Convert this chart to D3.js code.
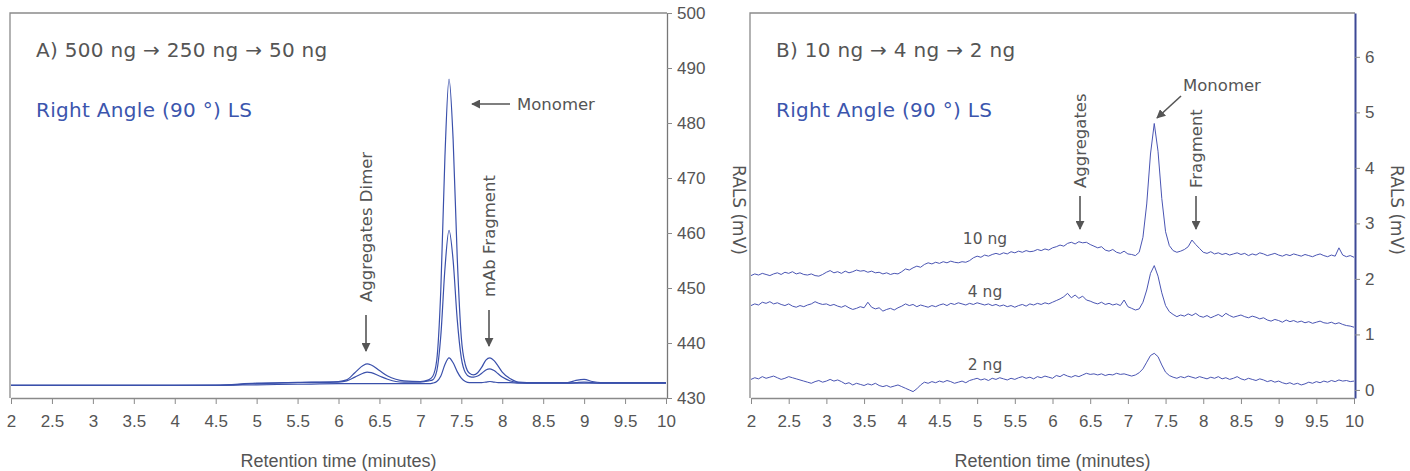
<!DOCTYPE html>
<html>
<head>
<meta charset="utf-8">
<script src="https://cdn.jsdelivr.net/npm/d3@7"></script>
<style>
  body { margin: 0; background: #fff; }
  svg { display: block; }
</style>
</head>
<body>
<div id="chart"></div>
<script>
// Panneau A : trois injections, 500 ng, 250 ng, 50 ng (RALS en mV)
var timesA = [2, 3, 4, 4.5, 5, 5.5, 6, 6.1, 6.2, 6.3, 6.35, 6.4, 6.5, 6.6, 6.7, 6.8, 7.0, 7.1, 7.15, 7.2, 7.25,
  7.3, 7.35, 7.4, 7.45, 7.5, 7.55, 7.6, 7.65, 7.7, 7.75, 7.8, 7.85, 7.9, 7.95, 8.0, 8.1, 8.2, 8.4, 8.8, 8.9, 9.0,
  9.1, 9.2, 9.5, 10];
var ng500 = [432.3, 432.3, 432.3, 432.35, 432.7, 432.85, 433.0, 433.3, 434.6, 435.9, 436.2, 436.0, 435.0, 434.0,
  433.4, 433.1, 433.0, 433.3, 433.9, 436.9, 449.8, 473.9, 488.0, 477.0, 455.6, 441.0, 436.0, 434.5, 434.2, 434.6,
  435.6, 436.9, 437.3, 436.8, 435.8, 434.7, 433.5, 432.9, 432.8, 432.8, 433.2, 433.4, 433.0, 432.8, 432.8, 432.8];
var ng250 = [432.3, 432.3, 432.3, 432.3, 432.6, 432.8, 432.9, 433.1, 433.8, 434.5, 434.7, 434.6, 434.0, 433.4,
  433.0, 432.9, 432.9, 433.1, 433.3, 434.9, 441.4, 453.5, 460.5, 455.0, 444.3, 437.3, 434.6, 433.9, 433.8, 434.0,
  434.5, 435.1, 435.3, 435.0, 434.4, 433.8, 433.1, 432.8, 432.7, 432.7, 432.8, 432.9, 432.8, 432.7, 432.7, 432.7];
var ng50 = [432.3, 432.3, 432.3, 432.3, 432.4, 432.5, 432.6, 432.6, 432.6, 432.6, 432.6, 432.6, 432.6, 432.6,
  432.6, 432.6, 432.6, 432.6, 432.7, 433.0, 434.0, 436.1, 437.3, 436.4, 434.8, 433.6, 433.0, 432.8, 432.8, 432.8,
  432.8, 432.9, 433.0, 432.9, 432.8, 432.8, 432.8, 432.7, 432.7, 432.7, 432.7, 432.7, 432.7, 432.7, 432.7, 432.7];

// Panneau B : 10 ng, 4 ng, 2 ng, un point toutes les 0.05 min de 2 à 10
var ng10 = [2.06, 2.09, 2.07, 2.10, 2.08, 2.06, 2.09, 2.11, 2.08, 2.12, 2.10,
  2.13, 2.09, 2.11, 2.08, 2.07, 2.09, 2.06, 2.05, 2.08, 2.12,
  2.15, 2.11, 2.13, 2.10, 2.14, 2.11, 2.13, 2.16, 2.14, 2.15,
  2.12, 2.14, 2.11, 2.12, 2.09, 2.11, 2.08, 2.10, 2.09, 2.13,
  2.18, 2.16, 2.20, 2.23, 2.21, 2.26, 2.29, 2.27, 2.30, 2.28,
  2.31, 2.29, 2.32, 2.30, 2.29, 2.31, 2.30, 2.33, 2.38, 2.41,
  2.39, 2.43, 2.41, 2.44, 2.46, 2.44, 2.47, 2.45, 2.49, 2.47,
  2.50, 2.48, 2.51, 2.49, 2.50, 2.53, 2.51, 2.54, 2.52, 2.56,
  2.58, 2.61, 2.59, 2.64, 2.66, 2.63, 2.67, 2.65, 2.66, 2.62,
  2.59, 2.56, 2.58, 2.52, 2.50, 2.53, 2.48, 2.46, 2.50, 2.45,
  2.44, 2.42, 2.48, 2.75, 3.35, 4.25, 4.80, 4.30, 3.45, 2.85,
  2.60, 2.51, 2.48, 2.50, 2.53, 2.58, 2.70, 2.62, 2.55, 2.48,
  2.46, 2.49, 2.45, 2.47, 2.44, 2.46, 2.43, 2.45, 2.47, 2.44,
  2.46, 2.42, 2.45, 2.43, 2.47, 2.45, 2.42, 2.44, 2.46, 2.43,
  2.41, 2.44, 2.42, 2.45, 2.43, 2.41, 2.44, 2.42, 2.40, 2.43,
  2.45, 2.42, 2.40, 2.43, 2.41, 2.56, 2.43, 2.40, 2.42, 2.39];
var ng4 = [1.52, 1.55, 1.53, 1.58, 1.56, 1.59, 1.55, 1.57, 1.54, 1.52, 1.55,
  1.51, 1.49, 1.52, 1.50, 1.53, 1.55, 1.59, 1.56, 1.54, 1.55,
  1.52, 1.54, 1.51, 1.49, 1.52, 1.48, 1.45, 1.47, 1.50, 1.48,
  1.58, 1.49, 1.46, 1.48, 1.42, 1.45, 1.47, 1.44, 1.48, 1.51,
  1.55, 1.52, 1.54, 1.50, 1.53, 1.51, 1.49, 1.52, 1.50, 1.53,
  1.55, 1.52, 1.56, 1.54, 1.57, 1.55, 1.53, 1.56, 1.54, 1.57,
  1.55, 1.53, 1.55, 1.52, 1.54, 1.51, 1.53, 1.50, 1.52, 1.49,
  1.52, 1.54, 1.51, 1.55, 1.53, 1.56, 1.54, 1.57, 1.55, 1.58,
  1.61, 1.64, 1.68, 1.74, 1.66, 1.71, 1.65, 1.69, 1.62, 1.60,
  1.57, 1.55, 1.58, 1.54, 1.56, 1.53, 1.55, 1.52, 1.62, 1.50,
  1.47, 1.44, 1.46, 1.58, 1.80, 2.10, 2.24, 2.05, 1.75, 1.52,
  1.41, 1.36, 1.32, 1.35, 1.33, 1.37, 1.34, 1.38, 1.33, 1.31,
  1.34, 1.30, 1.33, 1.36, 1.32, 1.38, 1.34, 1.31, 1.33, 1.35,
  1.32, 1.30, 1.33, 1.31, 1.28, 1.30, 1.26, 1.24, 1.27, 1.25,
  1.22, 1.26, 1.23, 1.25, 1.22, 1.24, 1.21, 1.23, 1.20, 1.22,
  1.24, 1.21, 1.20, 1.22, 1.19, 1.21, 1.18, 1.16, 1.15, 1.13];
var ng2 = [0.19, 0.22, 0.20, 0.24, 0.21, 0.23, 0.25, 0.22, 0.19, 0.21, 0.24,
  0.22, 0.20, 0.18, 0.16, 0.14, 0.12, 0.15, 0.17, 0.14, 0.16,
  0.19, 0.16, 0.18, 0.15, 0.11, 0.13, 0.09, 0.12, 0.10, 0.08,
  0.11, 0.09, 0.12, 0.08, 0.06, 0.08, 0.05, 0.07, 0.09, 0.06,
  0.03, 0.00, -0.03, 0.02, 0.09, 0.14, 0.12, 0.15, 0.13, 0.16,
  0.14, 0.17, 0.15, 0.12, 0.14, 0.16, 0.13, 0.17, 0.19, 0.21,
  0.18, 0.20, 0.17, 0.21, 0.19, 0.22, 0.20, 0.18, 0.21, 0.19,
  0.22, 0.24, 0.21, 0.23, 0.20, 0.24, 0.22, 0.25, 0.23, 0.21,
  0.26, 0.24, 0.28, 0.25, 0.23, 0.26, 0.24, 0.27, 0.30, 0.28,
  0.29, 0.27, 0.29, 0.26, 0.28, 0.27, 0.30, 0.28, 0.29, 0.27,
  0.25, 0.27, 0.31, 0.38, 0.50, 0.62, 0.66, 0.60, 0.45, 0.32,
  0.26, 0.23, 0.21, 0.24, 0.22, 0.25, 0.23, 0.21, 0.24, 0.22,
  0.20, 0.23, 0.21, 0.24, 0.20, 0.22, 0.19, 0.21, 0.24, 0.20,
  0.18, 0.21, 0.19, 0.17, 0.20, 0.18, 0.15, 0.17, 0.14, 0.16,
  0.13, 0.11, 0.13, 0.10, 0.12, 0.09, 0.11, 0.14, 0.12, 0.15,
  0.13, 0.16, 0.14, 0.17, 0.15, 0.18, 0.16, 0.17, 0.15, 0.16];

var xTicks = [2, 2.5, 3, 3.5, 4, 4.5, 5, 5.5, 6, 6.5, 7, 7.5, 8, 8.5, 9, 9.5, 10];
var yTicksA = [430, 440, 450, 460, 470, 480, 490, 500];
var yTicksB = [0, 1, 2, 3, 4, 5, 6];

var width = 1410, height = 471;
var grey = "#555", frame = "#8a8a8a";
var blueA = "#3a50ab", blueB = "#4a55b3";
var sans = "'Liberation Sans', Arial, sans-serif";
var wide = "'DejaVu Sans', Verdana, sans-serif";

var svg = d3.select("#chart").append("svg")
    .attr("width", width)
    .attr("height", height);

svg.append("defs").append("marker")
    .attr("id", "head")
    .attr("viewBox", "0 0 10 10")
    .attr("refX", 9).attr("refY", 5)
    .attr("markerWidth", 9).attr("markerHeight", 9)
    .attr("markerUnits", "userSpaceOnUse")
    .attr("orient", "auto")
  .append("path")
    .attr("d", "M0,0 L10,5 L0,10 Z")
    .attr("fill", grey);

function xFmt(d) { return d % 1 ? d.toFixed(1) : d; }

function drawPanel(o) {
  var g = svg.append("g");
  var x = d3.scaleLinear().domain([2, 10]).range([o.left + 1, o.right - 1]);
  var y = d3.scaleLinear().domain(o.yDomain).range([398, 13]);

  // cadre gris en haut et à gauche
  g.append("path")
      .attr("d", `M${o.left},398 V13 H${o.right}`)
      .attr("fill", "none")
      .attr("stroke", frame)
      .attr("stroke-width", 1.3);

  var xa = g.append("g")
      .attr("transform", "translate(0,398)")
      .call(d3.axisBottom(x).tickValues(xTicks).tickFormat(xFmt).tickSize(6).tickSizeOuter(0).tickPadding(11));
  xa.select(".domain").attr("stroke", frame).attr("stroke-width", 1.3);
  xa.selectAll("line").attr("stroke", frame);
  xa.selectAll("text").attr("font-family", sans).attr("font-size", 17).attr("fill", grey);

  var ya = g.append("g")
      .attr("transform", `translate(${o.right},0)`)
      .call(d3.axisRight(y).tickValues(o.yTicks).tickFormat(d3.format("d")).tickSize(5).tickSizeOuter(0).tickPadding(5));
  ya.select(".domain").attr("stroke", o.axisColor).attr("stroke-width", o.axisWidth);
  ya.selectAll("line").attr("stroke", frame);
  ya.selectAll("text").attr("font-family", sans).attr("font-size", 17).attr("fill", grey);

  g.append("text")
      .attr("x", (o.left + o.right) / 2)
      .attr("y", 467)
      .attr("text-anchor", "middle")
      .attr("font-family", sans)
      .attr("font-size", 18)
      .attr("fill", grey)
      .text("Retention time (minutes)");

  g.append("text")
      .attr("transform", `translate(${o.right + o.ralsOffset},210) rotate(90)`)
      .attr("text-anchor", "middle")
      .attr("font-family", wide)
      .attr("font-size", 17)
      .attr("fill", grey)
      .text("RALS (mV)");

  g.append("text")
      .attr("x", o.left + 26).attr("y", 57)
      .attr("font-family", wide).attr("font-size", 20).attr("letter-spacing", 0.3).attr("fill", grey)
      .text(o.title);

  g.append("text")
      .attr("x", o.left + 26).attr("y", 117)
      .attr("font-family", wide).attr("font-size", 20).attr("letter-spacing", 0.3).attr("fill", "#3b55ad")
      .text("Right Angle (90 °) LS");

  o.series.forEach(function(s) {
    var line = d3.line()
        .x(function(d, i) { return x(s.t[i]); })
        .y(function(d) { return y(d); })
        .curve(o.curve);
    g.append("path")
        .datum(s.v)
        .attr("fill", "none")
        .attr("stroke", o.lineColor)
        .attr("stroke-width", o.lineWidth)
        .attr("d", line);
  });
  return { g: g, x: x, y: y };
}

function arrow(g, x1, y1, x2, y2) {
  g.append("line")
      .attr("x1", x1).attr("y1", y1).attr("x2", x2).attr("y2", y2)
      .attr("stroke", grey).attr("stroke-width", 1.6)
      .attr("marker-end", "url(#head)");
}

function label(g, x, y, txt, rot, anchor) {
  g.append("text")
      .attr("transform", `translate(${x},${y})` + (rot ? ` rotate(${rot})` : ""))
      .attr("text-anchor", anchor || "start")
      .attr("font-family", wide).attr("font-size", 16.5).attr("fill", grey)
      .text(txt);
}

// grille de temps régulière pour le panneau B
function grid(v) { return v.map(function(d, i) { return 2 + i * 8 / (v.length - 1); }); }

var A = drawPanel({
  left: 10, right: 667, yDomain: [430, 500], yTicks: yTicksA, ralsOffset: 66,
  title: "A) 500 ng \u2192 250 ng \u2192 50 ng",
  axisColor: "#777", axisWidth: 1.3, lineColor: blueA, lineWidth: 1.2,
  curve: d3.curveMonotoneX,
  series: [{ t: timesA, v: ng50 }, { t: timesA, v: ng250 }, { t: timesA, v: ng500 }]
});

label(A.g, 372, 302, "Aggregates Dimer", -90);
arrow(A.g, 366, 315, 366, 351);
label(A.g, 495, 297, "mAb Fragment", -90);
arrow(A.g, 489, 310, 489, 346);
label(A.g, 517, 110, "Monomer");
arrow(A.g, 510, 104, 472, 104);

var B = drawPanel({
  left: 750, right: 1355, yDomain: [-0.145, 6.79], yTicks: yTicksB, ralsOffset: 36,
  title: "B) 10 ng \u2192 4 ng \u2192 2 ng",
  axisColor: "#3d4896", axisWidth: 2, lineColor: blueB, lineWidth: 1,
  curve: d3.curveLinear,
  series: [{ t: grid(ng10), v: ng10 }, { t: grid(ng4), v: ng4 }, { t: grid(ng2), v: ng2 }]
});

label(B.g, 1086, 188, "Aggregates", -90);
arrow(B.g, 1080, 196, 1080, 229);
label(B.g, 1202, 188, "Fragment", -90);
arrow(B.g, 1196, 196, 1196, 229);
label(B.g, 1183, 91, "Monomer");
arrow(B.g, 1181, 96, 1157, 118);

[["10 ng", 244], ["4 ng", 297], ["2 ng", 370]].forEach(function(l) {
  B.g.append("text")
      .attr("x", 985).attr("y", l[1])
      .attr("text-anchor", "middle")
      .attr("font-family", wide).attr("font-size", 15.5).attr("fill", grey)
      .text(l[0]);
});
</script>
</body>
</html>
